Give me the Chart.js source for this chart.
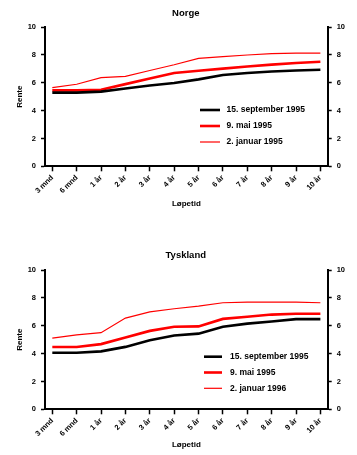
<!DOCTYPE html>
<html><head><meta charset="utf-8">
<script src="https://cdn.jsdelivr.net/npm/chart.js@4.4.1/dist/chart.umd.min.js"></script>
<style>
html,body{margin:0;padding:0;background:#fff;width:357px;height:455px;overflow:hidden;}
canvas{position:absolute;left:0;}
</style></head>
<body>
<canvas id="c1" width="357" height="212" style="top:0"></canvas>
<canvas id="c2" width="357" height="214" style="top:241px"></canvas>
<script>
const categories = ['3 mnd','6 mnd','1 år','2 år','3 år','4 år','5 år','6 år','7 år','8 år','9 år','10 år'];
const yTicks = [0,2,4,6,8,10];

const norgeSep = [5.29,5.29,5.36,5.58,5.80,5.98,6.24,6.56,6.70,6.80,6.88,6.93];
const norgeMai = [5.45,5.45,5.50,5.90,6.30,6.70,6.86,7.01,7.16,7.30,7.42,7.51];
const norgeJan = [5.65,5.89,6.36,6.46,6.88,7.29,7.75,7.87,7.99,8.09,8.13,8.13];

const tyskSep = [4.06,4.06,4.16,4.48,4.95,5.30,5.43,5.92,6.15,6.30,6.47,6.47];
const tyskMai = [4.47,4.47,4.68,5.16,5.63,5.93,5.95,6.49,6.64,6.80,6.86,6.86];
const tyskJan = [5.11,5.34,5.50,6.55,6.99,7.22,7.40,7.65,7.69,7.70,7.70,7.65];

const labelsNorge = ['15. september 1995','9. mai 1995','2. januar 1995'];
const labelsTysk = ['15. september 1995','9. mai 1995','2. januar 1996'];

const FAM = '"Liberation Sans", Arial, Helvetica, sans-serif';
const styles = [
  {color:'#000000', width:2.6},
  {color:'#ff0000', width:2.6},
  {color:'#ff0000', width:1.2}
];

const legendPlugin = {
  id:'inlegend',
  afterDraw(chart, args, opts){
    const ctx = chart.ctx, a = chart.chartArea;
    ctx.save();
    ctx.font = 'bold 8.5px ' + FAM;
    ctx.textBaseline = 'middle';
    ctx.fillStyle = '#000';
    chart.data.datasets.forEach((ds,i)=>{
      const y = a.top + opts.y0 + i*opts.dy;
      ctx.beginPath();
      ctx.strokeStyle = ds.borderColor;
      ctx.lineWidth = ds.borderWidth;
      ctx.moveTo(a.left + opts.x0, y);
      ctx.lineTo(a.left + opts.x1, y);
      ctx.stroke();
      ctx.fillText(ds.label, a.left + opts.xt, y);
    });
    ctx.restore();
  }
};

function makeChart(id, title, series, labels, p){
  const titleLH = 9.5*1.2, axLH = 8*1.2;
  const datasets = series.map((arr,i)=>({
    label: labels[i],
    data: arr.map((v,j)=>({x:j,y:v})),
    borderColor: styles[i].color,
    borderWidth: styles[i].width,
    pointRadius: 0,
    tension: 0,
    fill: false
  }));
  const tickFont = {family:FAM, size:7.5, weight:'bold'};
  const yAxis = (pos)=>({
    type:'linear', position:pos, min:0, max:10,
    afterBuildTicks: s=>{ s.ticks = yTicks.map(v=>({value:v})); },
    ticks:{color:'#000', font:tickFont, padding:5},
    grid:{display:true, drawOnChartArea:false, drawTicks:true, tickLength:4, tickColor:'#000', tickWidth:1.5},
    border:{display:true, color:'#000', width:2},
    title: pos==='left' ? {display:true, text:'Rente', color:'#000', font:{family:FAM,size:8,weight:'bold'}, padding:0} : {display:false},
    afterFit: s=>{ s.width = pos==='left' ? (45 - 14.5) : (357 - 327.7); }
  });
  return new Chart(document.getElementById(id), {
    type:'line',
    data:{datasets},
    options:{
      responsive:false, animation:false,
      layout:{padding:{left:14.5, right:0, top:0, bottom:p.H - (p.xt + axLH/2)}},
      plugins:{
        legend:{display:false},
        tooltip:{enabled:false},
        title:{display:true, text:title, color:'#000', font:{family:FAM,size:9.5,weight:'bold'},
               padding:{top:p.tc - titleLH/2, bottom:p.top - p.tc - titleLH/2}},
        inlegend:p.leg
      },
      scales:{
        x:{
          type:'linear', position:'bottom', min:-0.3, max:11.3,
          afterBuildTicks: s=>{ s.ticks = categories.map((c,i)=>({value:i})); },
          ticks:{color:'#000', font:tickFont, minRotation:45, maxRotation:45, padding:2, autoSkip:false,
                 callback:(v)=>categories[v]},
          grid:{display:true, drawOnChartArea:false, drawTicks:true, tickLength:5, tickColor:'#000', tickWidth:1.5},
          border:{display:true, color:'#000', width:2},
          title:{display:true, text:'Løpetid', color:'#000', font:{family:FAM,size:8,weight:'bold'}, padding:0},
          afterFit: s=>{ s.height = (p.xt + axLH/2) - p.bottom; }
        },
        y: yAxis('left'),
        y2: yAxis('right')
      }
    },
    plugins:[legendPlugin]
  });
}

makeChart('c1','Norge',[norgeSep,norgeMai,norgeJan],labelsNorge,
  {H:212, tc:13.5, top:27, bottom:166.3, xt:204,
   leg:{x0:155, x1:175, xt:181.5, y0:83, dy:16}});
makeChart('c2','Tyskland',[tyskSep,tyskMai,tyskJan],labelsTysk,
  {H:214, tc:14, top:29, bottom:168.3, xt:204,
   leg:{x0:159, x1:177, xt:185, y0:86.7, dy:15.8}});
</script>
</body></html>
